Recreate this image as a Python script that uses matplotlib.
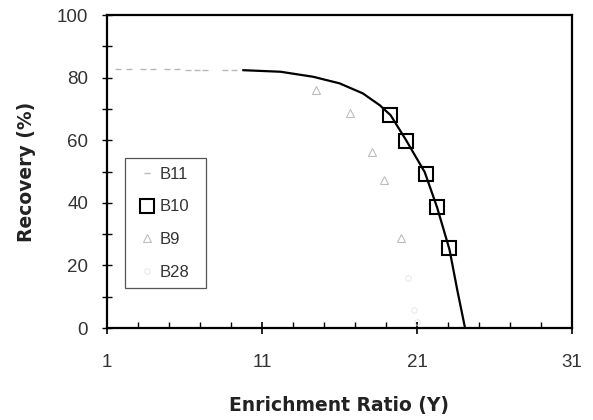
import numpy as np
import matplotlib
matplotlib.use("Agg")
import matplotlib.pyplot as plt
from matplotlib.ticker import MultipleLocator, FixedLocator

plt.rcParams['font.family'] = ['Liberation Sans', 'DejaVu Sans']

# fitted curve
curve_x = [9.8, 12.2, 14.3, 16.0, 17.5, 18.6, 19.3, 20.3, 21.5, 22.3, 23.1, 23.6, 24.1]
curve_y = [82.4, 81.9, 80.3, 78.2, 75.0, 71.2, 68.0, 60.0, 49.8, 38.5, 25.0, 12.1, 0.0]

# series
b11_x = [1.7, 2.4, 3.3, 4.0, 4.9, 5.5, 6.2, 6.8, 7.3, 8.6, 9.2]
b11_y = [82.8, 82.8, 82.8, 82.8, 82.7, 82.7, 82.6, 82.6, 82.6, 82.5, 82.5]
b10_x = [19.26, 20.29, 21.58, 22.27, 23.08]
b10_y = [68.1, 59.8, 49.2, 38.6, 25.5]
b9_x = [14.5, 16.7, 18.1, 18.9, 20.0]
b9_y = [76.0, 68.6, 56.3, 47.3, 28.7]
b28_x = [20.4, 20.8, 21.0]
b28_y = [15.9, 5.8, 2.0]

fig = plt.figure(figsize=(5.93, 4.2), dpi=100)
ax = fig.add_axes([0.1804, 0.219, 0.7842, 0.745])

ax.plot(curve_x, curve_y, color='black', lw=1.6, zorder=3)
ax.plot(b11_x, b11_y, ls='none', marker='_', ms=5, mew=1.0, color='#b8b8b8', label='B11')
ax.plot(b10_x, b10_y, ls='none', marker='s', ms=10, mew=1.5, mfc='none', mec='black',
        label='B10', zorder=4)
ax.plot(b9_x, b9_y, ls='none', marker='^', ms=6, mew=0.8, mfc='none', mec='#bdbdbd', label='B9')
ax.plot(b28_x, b28_y, ls='none', marker='o', ms=4, mew=0.6, mfc='none', mec='#e2e2e2', label='B28')

ax.set_xlim(1, 31)
ax.set_ylim(0, 100)
ax.xaxis.set_major_locator(FixedLocator([1, 11, 21, 31]))
ax.xaxis.set_minor_locator(FixedLocator(np.arange(1, 32, 2)))
ax.yaxis.set_major_locator(MultipleLocator(20))
ax.yaxis.set_minor_locator(MultipleLocator(10))

ax.tick_params(axis='x', which='major', direction='inout', length=8, width=1.2,
               labelsize=13.5, pad=15, labelcolor='#333333')
ax.tick_params(axis='x', which='minor', direction='in', length=4, width=1.0)
ax.tick_params(axis='y', which='both', direction='inout', length=7, width=1.0,
               labelsize=13.5, pad=10, labelcolor='#333333')
for s in ax.spines.values():
    s.set_linewidth(1.6)

ax.set_xlabel('Enrichment Ratio (\u03a5)', fontsize=13.5, fontweight='bold',
              family=['DejaVu Sans'], color='#222222', labelpad=18)
ax.set_ylabel('Recovery (%)', fontsize=13.5, fontweight='bold',
              family=['DejaVu Sans'], color='#222222', labelpad=15)

leg = ax.legend(loc='lower left', bbox_to_anchor=(0.0387, 0.1278, 0.174, 0.4185),
                mode='expand', borderaxespad=0, fontsize=12, labelspacing=1.06,
                handlelength=1.6, handletextpad=0.0, borderpad=0.5,
                fancybox=False, framealpha=1, labelcolor='#333333')
leg.get_frame().set_edgecolor('#555555')
leg.get_frame().set_linewidth(0.9)

fig.savefig('out.png', dpi=100)
